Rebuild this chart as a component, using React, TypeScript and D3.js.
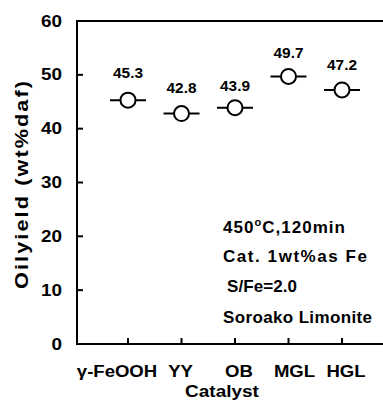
import React from "react";
import * as d3 from "d3";

const categories = ["γ-FeOOH", "YY", "OB", "MGL", "HGL"];
const oilYield = [45.3, 42.8, 43.9, 49.7, 47.2];
const yTicks = [0, 10, 20, 30, 40, 50, 60];
const notes = ["450°C,120min", "Cat. 1wt%as Fe", "S/Fe=2.0", "Soroako Limonite"];

// layout tweaks for individual labels
const labelLift = [22.5, 20.5, 17, 18.5, 20];
const catShift = [-11, -1, 4, 6, 4];
const noteX = [223, 223, 227, 223];
const noteY = [233, 262, 292, 323];
const noteW = [122, 144, 70, 149];

const W = 383;
const H = 401;
const left = 77;
const top = 21;
const bottom = 344;
const font = "'Liberation Sans', Arial, sans-serif";

type STextProps = {
  x: number;
  y: number;
  sx?: number;
  size: number;
  anchor?: "start" | "middle" | "end";
  rotate?: number;
  length?: number;
  children: React.ReactNode;
};

// bold text that is stretched horizontally by sx
function SText({ x, y, sx = 1, size, anchor = "start", rotate = 0, length, children }: STextProps) {
  return (
    <g transform={`translate(${x},${y}) rotate(${rotate}) scale(${sx},1)`}>
      <text
        x={0}
        y={0}
        fontSize={size}
        textAnchor={anchor}
        {...(length ? { textLength: length / sx, lengthAdjust: "spacing" } : {})}
      >
        {children}
      </text>
    </g>
  );
}

export default function App() {
  const x = d3.scaleLinear().domain([0, categories.length + 1]).range([74.5, 395.5]);
  const y = d3.scaleLinear().domain([0, 60]).range([bottom, top]);
  return (
    <svg
      width={W}
      height={H}
      style={{ position: "absolute", left: 0, top: 0, background: "#fff" }}
      fontFamily={font}
      fontWeight="bold"
    >
      {/* frame lines */}
      <line x1={left} x2={left} y1={top} y2={bottom} stroke="#000" strokeWidth={2} />
      <line x1={left - 1} x2={W} y1={bottom} y2={bottom} stroke="#000" strokeWidth={2} />
      <line x1={left - 1} x2={W} y1={top} y2={top} stroke="#000" strokeWidth={2} />
      {/* y ticks */}
      {yTicks.map((t) => (
        <g key={t}>
          <line x1={left} x2={left + 6} y1={y(t)} y2={y(t)} stroke="#000" strokeWidth={2} />
          <SText x={62} y={y(t) + 5.5} sx={1.18} size={16} anchor="end">{t}</SText>
        </g>
      ))}
      {/* x ticks and labels */}
      {categories.map((c, i) => (
        <g key={c}>
          <line x1={x(i + 1)} x2={x(i + 1)} y1={bottom} y2={bottom - 6} stroke="#000" strokeWidth={2} />
          <SText x={x(i + 1) + catShift[i]} y={377} sx={1.16} size={16} anchor="middle">{c}</SText>
        </g>
      ))}
      <SText x={222} y={397} sx={1.15} size={16.5} anchor="middle">Catalyst</SText>
      <SText x={28} y={185} sx={1.2} size={18} anchor="middle" rotate={-90} length={208}>
        Oilyield (wt%daf)
      </SText>
      {/* points */}
      {oilYield.map((v, i) => (
        <g key={i}>
          <line x1={x(i + 1) - 18} x2={x(i + 1) + 18} y1={y(v)} y2={y(v)} stroke="#000" strokeWidth={2} />
          <circle cx={x(i + 1)} cy={y(v)} r={7.5} fill="#fff" stroke="#000" strokeWidth={2} />
          <SText x={x(i + 1)} y={y(v) - labelLift[i]} sx={1.1} size={14} anchor="middle">
            {v.toFixed(1)}
          </SText>
        </g>
      ))}
      {/* run conditions */}
      {notes.map((n, i) => (
        <SText key={i} x={noteX[i]} y={noteY[i]} size={17} length={noteW[i]}>
          {i === 0 ? (
            <>
              450<tspan fontSize={11} dy={-7}>o</tspan>
              <tspan dy={7}>C,120min</tspan>
            </>
          ) : (
            n
          )}
        </SText>
      ))}
    </svg>
  );
}
